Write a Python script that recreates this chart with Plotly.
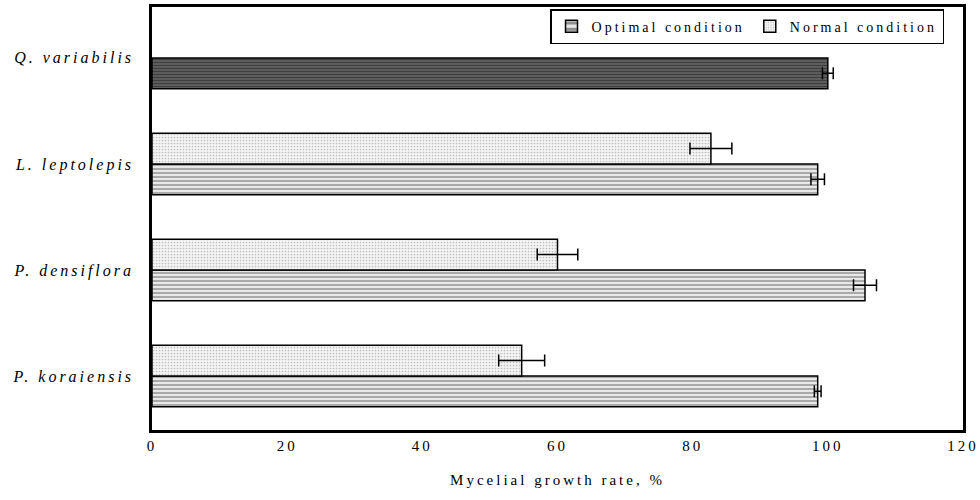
import plotly.graph_objects as go

# data listed bottom-to-top
categories = ["P. koraiensis", "P. densiflora", "L. leptolepis", "Q. variabilis"]
optimal = [98.5, 105.5, 98.5, 100.0]
optimal_err = [0.5, 1.7, 1.0, 0.8]
normal = [54.7, 60.0, 82.7, None]
normal_err = [3.4, 3.0, 3.1, 0]
x_ticks = [0, 20, 40, 60, 80, 100, 120]

labels = [f"<i>{c}</i>" for c in categories]

fig = go.Figure()
fig.add_trace(go.Bar(
    name="Optimal condition", y=labels, x=optimal, orientation="h",
    marker=dict(color="white", line=dict(color="black", width=1.5),
                pattern=dict(shape="-", fgcolor=["#333333", "#333333", "#333333", "#111111"],
                             bgcolor=["#e8e8e8", "#e8e8e8", "#e8e8e8", "#6a6a6a"],
                             size=[4, 4, 4, 3], solidity=[0.35, 0.35, 0.35, 0.55])),
    error_x=dict(type="data", array=optimal_err, color="black", thickness=1.5, width=6),
))
fig.add_trace(go.Bar(
    name="Normal condition", y=labels, x=normal, orientation="h",
    marker=dict(color="white", line=dict(color="black", width=1.5),
                pattern=dict(shape=".", fgcolor="#8a8a8a", bgcolor="#f4f4f4", size=3, solidity=0.25)),
    error_x=dict(type="data", array=normal_err, color="black", thickness=1.5, width=6),
))

fig.update_layout(
    width=980, height=500,
    margin=dict(l=152, r=17, t=7, b=70, autoexpand=False),
    barmode="group", bargap=0.42, bargroupgap=0,
    plot_bgcolor="white", paper_bgcolor="white",
    font=dict(family="Liberation Serif, Times New Roman, serif", size=15, color="black"),
    showlegend=True,
    legend=dict(orientation="h", x=0.9766, y=0.995, xanchor="right", yanchor="top",
                bordercolor="black", borderwidth=1.5, itemwidth=30,
                bgcolor="white", font=dict(size=14)),
    xaxis=dict(range=[0, 120], tickvals=x_ticks, showgrid=False, zeroline=False,
               showline=True, linecolor="black", linewidth=2.5, mirror=True,
               automargin=False,
               ticks="", tickfont=dict(size=15), ticklabeloverflow="allow",
               title=dict(text="Mycelial growth rate, %", font=dict(size=15), standoff=22)),
    yaxis=dict(categoryorder="array", categoryarray=labels, range=[-0.51, 3.48],
               showgrid=False, zeroline=False, showline=True, linecolor="black",
               linewidth=2.5, mirror=True, ticks="", ticklabelstandoff=12,
               automargin=False, tickfont=dict(size=16)),
)

post = (
    "var s=document.createElement('style');"
    "s.textContent='svg text{letter-spacing:3px;}';"
    "document.head.appendChild(s);"
    "document.body.style.margin='0';"
    "var gd=document.getElementById('{plot_id}');"
    "Plotly.relayout(gd, {'font.family': 'Liberation Serif, serif'});"
)

fig.write_html("out.html", post_script=post, config={"displayModeBar": False})
